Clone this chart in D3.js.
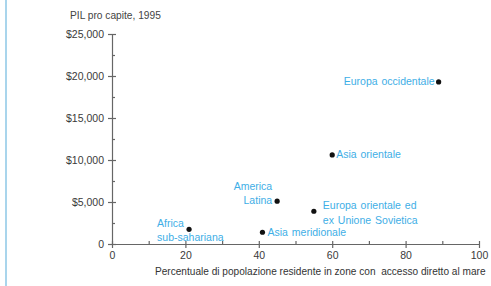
<!DOCTYPE html>
<html>
<head>
<meta charset="utf-8">
<script src="https://cdn.jsdelivr.net/npm/d3@7"></script>
<style>
  body { margin: 0; background: #fff; }
  svg text { font-family: "Liberation Sans", Arial, sans-serif; }
</style>
</head>
<body>
<div class="graph"></div>
<script>
const regions = [
  ['Europa occidentale'],
  ['Asia orientale'],
  ['America', 'Latina'],
  ['Europa orientale ed', 'ex Unione Sovietica'],
  ['Asia meridionale'],
  ['Africa', 'sub-sahariana']
];
const coastPct = [89, 60, 45, 55, 41, 21];
const gdp = [19300, 10600, 5100, 3900, 1400, 1750];
const yTicks = [0, 5000, 10000, 15000, 20000, 25000];
const xTicks = [0, 20, 40, 60, 80, 100];

// label placement relative to each point: dx, anchor, vertical offset of first line
const labelPos = [
  { dx: -4, anchor: 'end', dy: 0 },
  { dx: 4, anchor: 'start', dy: 0 },
  { dx: -5, anchor: 'end', dy: -15 },
  { dx: 9, anchor: 'start', dy: -5.5 },
  { dx: 5, anchor: 'start', dy: 0 },
  { dx: -32, anchor: 'start', dy: -6 }
];

const w = 491;
const h = 286;
const blue = '#3eaee6';
const axisColor = '#666';

const xScale = d3.scaleLinear().domain([0, 100]).range([112, 479]);
const yScale = d3.scaleLinear().domain([0, 25000]).range([244, 34]);

const svg = d3.select('.graph')
  .append('svg')
  .attr('width', w)
  .attr('height', h);

// light blue frame edge on the left
svg.append('line')
  .attr('x1', 6).attr('x2', 6)
  .attr('y1', 0).attr('y2', h)
  .attr('stroke', '#a9d5ec')
  .attr('stroke-width', 2);

// y axis
const yAxis = svg.append('g')
  .attr('transform', `translate(${xScale(0)}, 0)`)
  .call(d3.axisLeft(yScale)
    .tickValues(yTicks)
    .tickSize(4)
    .tickSizeOuter(0)
    .tickFormat((d) => d === 0 ? '0' : d3.format('$,')(d)));
yAxis.selectAll('.tick line').attr('x2', -4).attr('x1', 4);
yAxis.selectAll('.tick text').attr('x', -8);

svg.append('g')
  .attr('transform', `translate(${xScale(0)}, 0)`)
  .call(d3.axisRight(yScale)
    .tickValues([2500, 7500, 12500, 17500, 22500])
    .tickSize(3)
    .tickFormat(''))
  .call((g) => g.select('.domain').remove());

// x axis
const xAxis = svg.append('g')
  .attr('transform', `translate(0, ${yScale(0)})`)
  .call(d3.axisBottom(xScale)
    .tickValues(xTicks)
    .tickSize(4)
    .tickSizeOuter(0));
xAxis.selectAll('.tick line').attr('y1', -3).attr('y2', 4);
xAxis.selectAll('.tick text').attr('y', 8);

svg.append('g')
  .attr('transform', `translate(0, ${yScale(0)})`)
  .call(d3.axisTop(xScale)
    .tickValues([10, 30, 50, 70, 90])
    .tickSize(3)
    .tickFormat(''))
  .call((g) => g.select('.domain').remove());

svg.selectAll('.domain, .tick line')
  .attr('stroke', axisColor)
  .attr('stroke-width', 1.2);
svg.selectAll('.tick text')
  .attr('fill', '#3a3a3a')
  .style('font-size', '10.5px');

// titles
svg.append('text')
  .attr('x', 70)
  .attr('y', 19)
  .attr('fill', '#444')
  .style('font-size', '10.2px')
  .text('PIL pro capite, 1995');

svg.append('text')
  .attr('x', 155)
  .attr('y', 275)
  .attr('fill', '#333')
  .style('font-size', '10.1px')
  .style('white-space', 'pre')
  .text('Percentuale di popolazione residente in zone con  accesso diretto al mare');

// points
const points = regions.map((r, i) => ({ name: r, x: coastPct[i], y: gdp[i], pos: labelPos[i] }));

svg.selectAll('circle')
  .data(points)
  .enter()
  .append('circle')
  .attr('cx', (d) => xScale(d.x))
  .attr('cy', (d) => yScale(d.y))
  .attr('r', 2.6)
  .attr('fill', '#111');

const labels = svg.selectAll('text.label')
  .data(points)
  .enter()
  .append('text')
  .attr('class', 'label')
  .attr('fill', blue)
  .attr('text-anchor', (d) => d.pos.anchor)
  .style('font-size', '10.5px')
  .style('word-spacing', '1px');

labels.selectAll('tspan')
  .data((d) => d.name.map((line, i) => ({ line, i, d })))
  .enter()
  .append('tspan')
  .attr('x', (t) => xScale(t.d.x) + t.d.pos.dx)
  .attr('y', (t) => yScale(t.d.y) + t.d.pos.dy + t.i * 14.5 + 3.5)
  .text((t) => t.line);
</script>
</body>
</html>
